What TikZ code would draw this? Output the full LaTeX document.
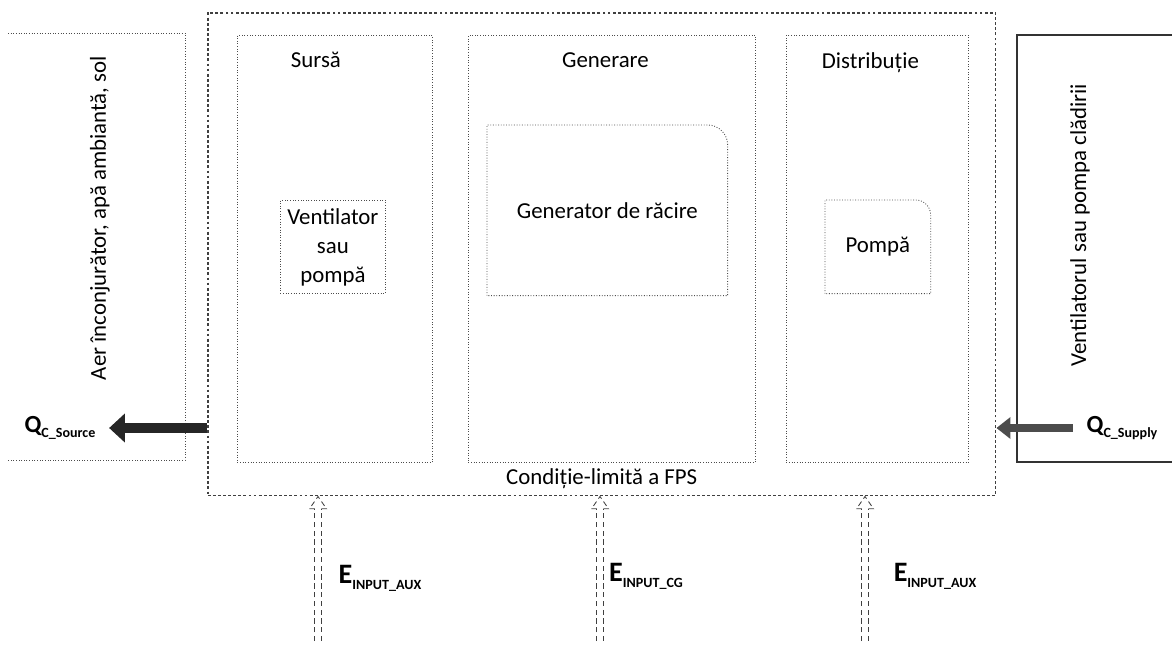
\documentclass[tikz,border=0pt]{standalone}
\usepackage{fontspec}
\setmainfont{Carlito}
\usetikzlibrary{positioning,arrows.meta}
\newcommand{\lowsub}[1]{\raisebox{-0.45ex}{\fontsize{8}{9}\selectfont #1}}

\begin{document}
\begin{tikzpicture}[
  x=0.02cm, y=-0.02cm,
  font=\fontsize{13}{16.5}\selectfont,
  boundary/.style={draw=black!75,line width=0.9pt,dash pattern=on 1.6pt off 1.3pt,inner sep=0pt},
  panel/.style={draw=black!70,line width=0.5pt,densely dotted,inner sep=0pt},
  inbox/.style={draw=black!70,line width=0.5pt,densely dotted},
  wall/.style={draw=black!80,line width=0.6pt},
  heat/.style={line width=6pt,black!85,-{Triangle[length=9pt,width=16pt]}},
  supply/.style={line width=4pt,black!70,-{Triangle[length=8pt,width=12pt]}},
  feed/.style={draw=black!75,double,double distance=3.2pt,line width=0.5pt,densely dashed},
  feedhead/.style={draw=black!75,line width=0.5pt,densely dashed,line join=miter},
  qlabel/.style={font=\fontsize{14}{16}\selectfont\bfseries},
  elabel/.style={font=\fontsize{16}{18}\selectfont\bfseries}
]
  \useasboundingbox (0,0) rectangle (1172,645);

  % FPS boundary
  \node[boundary,anchor=north west,minimum width=15.76cm,minimum height=9.66cm] (fps) at (207,12) {};
  \node at (fps.south) [above=0.04cm] (fpslbl) {Condiție-limită a FPS};

  % three parts
  \node[panel,anchor=north west,minimum width=3.9cm,minimum height=8.54cm] (sursa) at (237,35) {};
  \node[panel,anchor=north west,minimum width=5.74cm,minimum height=8.54cm] (generare) at (468,35) {};
  \node[panel,anchor=north west,minimum width=3.64cm,minimum height=8.54cm] (distrib) at (786,35) {};
  \node at (sursa.north) [below=0.22cm,xshift=-0.38cm] (sursalbl) {Sursă};
  \node at (generare.north) [below=0.22cm,xshift=-0.13cm] (generarelbl) {Generare};
  \node at (distrib.north) [below=0.22cm,xshift=-0.14cm] (distriblbl) {Distribuție};

  \node[inbox,anchor=north west,minimum width=2.1cm,minimum height=1.86cm,align=center] (vent) at (280,200) {Ventilator\\sau\\pompă};
  \node[anchor=north west,minimum width=4.8cm,minimum height=3.4cm] (gen) at (487,125) {Generator de răcire};
  \draw[inbox] (gen.south west) |- ([xshift=-0.4cm]gen.north east) to[out=0,in=90] ([yshift=-0.4cm]gen.north east) -- (gen.south east) -- cycle;
  \node[anchor=north west,minimum width=2.1cm,minimum height=1.86cm] (pompa) at (825,200) {Pompă};
  \draw[inbox] (pompa.south west) |- ([xshift=-0.3cm]pompa.north east) to[out=0,in=90] ([yshift=-0.3cm]pompa.north east) -- (pompa.south east) -- cycle;

  % outside: environment and building
  \coordinate (envnw) at (8,33);
  \coordinate (envse) at (185,460);
  \draw[panel] (envnw) -| (envse) -- (envnw |- envse);
  \node[rotate=90] (env) at (100,218) {Aer înconjurător, apă ambiantă, sol};

  \coordinate (bldgne) at (1185,35);
  \coordinate (bldgsw) at (1017,462);
  \draw[wall] (bldgne) -| (bldgsw) -- (bldgne |- bldgsw);
  \node[rotate=90] (bldg) at (1080,225) {Ventilatorul sau pompa clădirii};

  % heat flows
  \node[qlabel] (qsrc) at (60,428) {Q\lowsub{C\_Source}};
  \draw[heat] (fps.west |- qsrc) -- ([xshift=0.15cm]qsrc.east);
  \node[qlabel] (qsup) at (1122,428) {Q\lowsub{C\_Supply}};
  \draw[supply] ([xshift=-0.15cm]qsup.west) -- (fps.east |- qsup);

  % energy inputs (hollow arrows)
  \coordinate (ein1) at (318,650);
  \coordinate (ein2) at (600,650);
  \coordinate (ein3) at (865,650);
  \foreach \e in {ein1,ein2,ein3}{
    \coordinate (\e tip) at (\e |- fps.south);
    \draw[feed] (\e) -- ([yshift=-7pt]\e tip);
    \draw[feedhead] ([xshift=-1.85pt,yshift=-7pt]\e tip) -- ++(-3pt,0) -- (\e tip)
      -- ([xshift=4.85pt,yshift=-7pt]\e tip) -- ++(-3pt,0);
  }
  \node[elabel] (eaux1) at (380,578) {E\lowsub{INPUT\_AUX}};
  \node[elabel] (ecg) at (646,576) {E\lowsub{INPUT\_CG}};
  \node[elabel] (eaux2) at (935,576) {E\lowsub{INPUT\_AUX}};
\end{tikzpicture}
\end{document}
